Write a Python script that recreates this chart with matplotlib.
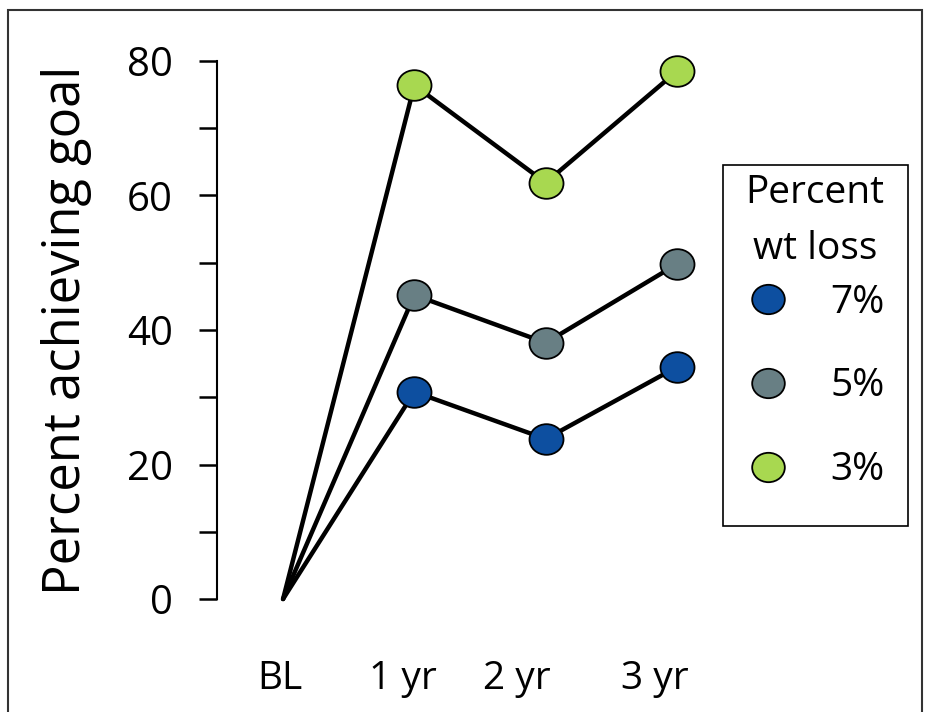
import matplotlib
matplotlib.use("Agg")
import matplotlib.pyplot as plt
from matplotlib.path import Path
from matplotlib.transforms import Affine2D
from matplotlib.patches import Rectangle
from matplotlib.lines import Line2D
from matplotlib.ticker import MultipleLocator

plt.rcParams['font.family'] = ['Open Sans', 'DejaVu Sans']

# Data
timepoints = ["BL", "1 yr", "2 yr", "3 yr"]
loss_levels = ["7%", "5%", "3%"]
pct_loss_7 = [0, 30.8, 23.8, 34.5]
pct_loss_5 = [0, 45.2, 38.1, 49.8]
pct_loss_3 = [0, 76.4, 61.9, 78.5]
series_colors = ["#0D4FA0", "#687F84", "#A8D850"]

W, H = 930, 712
fig = plt.figure(figsize=(W / 100, H / 100), dpi=100)
ax = fig.add_axes([217 / W, 1 - 599 / H, 485 / W, 538 / H])

# slightly flattened circle for the markers
oval = Path.unit_circle().transformed(Affine2D().scale(1.0, 0.9))

x = list(range(len(timepoints)))
for vals, col in zip([pct_loss_7, pct_loss_5, pct_loss_3], series_colors):
    ax.plot(x, vals, color="black", lw=3.2, zorder=2, clip_on=False,
            solid_capstyle="round", solid_joinstyle="round")
    ax.plot(x[1:], vals[1:], ls="none", marker=oval, ms=24.5,
            mfc=col, mec="black", mew=1.3, zorder=3, clip_on=False)

ax.set_xlim(-0.503, 3.19)
ax.set_ylim(0, 80)
for s in ["top", "right", "bottom"]:
    ax.spines[s].set_visible(False)
ax.spines["left"].set_linewidth(1.5)

ax.yaxis.set_major_locator(MultipleLocator(20))
ax.yaxis.set_minor_locator(MultipleLocator(10))
ax.tick_params(axis="y", which="both", length=13, width=1.8, direction="out",
               labelsize=29, pad=19)

# category labels sit a little left of their points
label_pos = [-0.023, 0.914, 1.78, 2.83]
ax.set_xticks(label_pos)
ax.set_xticklabels(timepoints)
ax.tick_params(axis="x", length=0, labelsize=28, pad=44)

ax.set_ylabel("Percent achieving goal", fontsize=36.5)
ax.yaxis.set_label_coords((92 - 217) / 485, 0.5)

# legend
handles = [Line2D([], [], ls="none", marker=oval, ms=23.5, mfc=c, mec="black", mew=1.3)
           for c in series_colors]
leg = ax.legend(handles, loss_levels, title="Percent\nwt loss", frameon=False,
                loc="upper center", bbox_to_anchor=(815 / W, 1 - 174 / H),
                bbox_transform=fig.transFigure, borderaxespad=0, borderpad=0.0,
                fontsize=28, title_fontsize=28, handlelength=1.2,
                handletextpad=1.0, labelspacing=1.18, alignment="center")
leg.get_title().set_linespacing(1.63)
leg.get_title().set_multialignment("center")
leg._legend_box.sep = 11  # gap between title and entries, in points
fig.add_artist(Rectangle((723 / W, 1 - 526 / H), (908 - 723) / W, (526 - 165) / H,
                         transform=fig.transFigure, fill=False, ec="black", lw=1.2))

# outer frame
fig.add_artist(Rectangle((8 / W, -0.05), (922 - 8) / W, 1 - 10 / H + 0.05,
                         transform=fig.transFigure, fill=False, ec="#333333", lw=1.5))

fig.savefig("out.png", dpi=100)
